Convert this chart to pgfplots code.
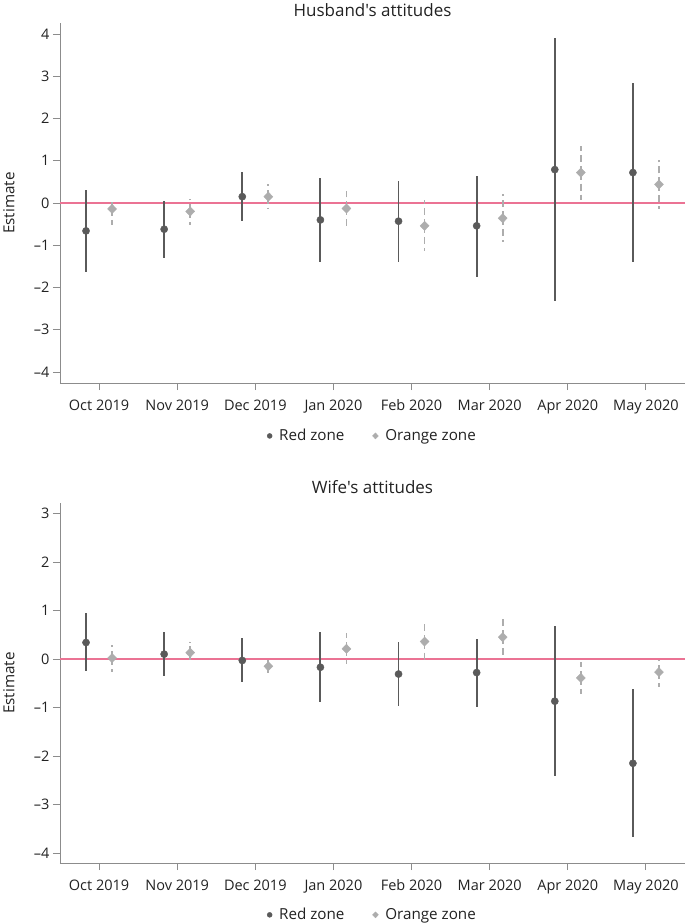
\documentclass[border=0pt]{standalone}
\usepackage{fontspec}
\setmainfont{Open Sans}[Ligatures=TeXOff]
\usepackage{pgfplots}
\pgfplotsset{compat=1.18}
\usepackage{pgfplotstable}

\definecolor{redz}{HTML}{5A5A5A}
\definecolor{orz}{HTML}{ADADAD}
\definecolor{zline}{rgb}{0.92,0.45,0.58}
\definecolor{axg}{HTML}{8C8C8C}
\definecolor{txt}{HTML}{222222}

% Husband's attitudes
\pgfplotstableread{
x y lo hi
0.8333 -0.66 -1.63 0.31
1.8333 -0.62 -1.30 0.05
2.8333 0.15 -0.42 0.73
3.8333 -0.40 -1.40 0.58
4.8333 -0.43 -1.39 0.52
5.8333 -0.54 -1.74 0.65
6.8333 0.79 -2.32 3.90
7.8333 0.72 -1.40 2.83
}\husred
\pgfplotstableread{
x y lo hi
1.1667 -0.14 -0.51 0.09
2.1667 -0.20 -0.52 0.09
3.1667 0.15 -0.15 0.46
4.1667 -0.13 -0.56 0.29
5.1667 -0.54 -1.13 0.07
6.1667 -0.36 -0.92 0.21
7.1667 0.72 0.07 1.36
8.1667 0.44 -0.15 1.01
}\husora
% Wife's attitudes
\pgfplotstableread{
x y lo hi
0.8333 0.34 -0.25 0.94
1.8333 0.10 -0.35 0.55
2.8333 -0.03 -0.47 0.43
3.8333 -0.17 -0.89 0.56
4.8333 -0.31 -0.97 0.35
5.8333 -0.28 -0.98 0.41
6.8333 -0.87 -2.42 0.68
7.8333 -2.15 -3.68 -0.62
}\wifred
\pgfplotstableread{
x y lo hi
1.1667 0.02 -0.26 0.28
2.1667 0.13 -0.09 0.36
3.1667 -0.15 -0.30 -0.02
4.1667 0.21 -0.11 0.54
5.1667 0.36 -0.06 0.78
6.1667 0.45 0.06 0.84
7.1667 -0.39 -0.72 -0.06
8.1667 -0.27 -0.58 -0.03
}\wifora

\newcommand{\tfont}{\fontsize{14.5}{17}\selectfont}
\newcommand{\lfont}{\fontsize{15.2}{18}\selectfont}

\pgfplotsset{
  panel/.style={
    scale only axis, width=625pt, height=360pt,
    xmin=0.5, xmax=8.5,
    axis x line*=bottom, axis y line*=left,
    axis line style={axg, line width=0.9pt, -},
    tick style={axg, line width=0.9pt},
    tick align=outside, major tick length=7pt,
    xtick={1,...,8},
    xticklabels={Oct 2019, Nov 2019, Dec 2019, Jan 2020, Feb 2020, Mar 2020, Apr 2020, May 2020},
    ticklabel style={font=\tfont, text=txt},
    xticklabel style={yshift=-6pt},
    ylabel={Estimate},
    ylabel style={font=\lfont, text=txt, at={(axis description cs:-0.0816,0.5)}, anchor=center},
    title style={font=\fontsize{17}{20}\selectfont, text=txt},
    legend style={draw=none, fill=none, legend columns=2, font=\lfont, text=txt,
      /tikz/every odd column/.append style={column sep=5pt},
      /tikz/every even column/.append style={column sep=26pt}},
    legend cell align=left,
    clip=false,
  },
  redser/.style={only marks, mark=*, mark size=3.6pt, color=redz,
    legend image post style={mark size=2.5pt},
    error bars/.cd, y dir=both, y explicit, error mark=none,
    error bar style={line width=1.9pt, redz, solid}},
  oraser/.style={only marks, mark=diamond*, mark size=4.6pt, color=orz,
    mark options={xscale=1.3},
    legend image post style={mark size=3pt},
    error bars/.cd, y dir=both, y explicit, error mark=none,
    error bar style={line width=1.7pt, orz, dash pattern=on 7pt off 4pt}},
}

\begin{document}
\begin{tikzpicture}
\path[use as bounding box] (-60pt,23pt) rectangle (625pt,-901pt);

\begin{axis}[panel, at={(0,0)}, anchor=north west,
  ymin=-4.26, ymax=4.26, ytick={-4,...,4},
  yticklabels={–4,–3,–2,–1,0,1,2,3,4},
  title={Husband's attitudes}, title style={anchor=center, yshift=7pt},
  legend style={at={(axis description cs:0.5,-0.147)}, anchor=center}]
\addplot[color=zline, line width=1.3pt, no markers, forget plot] coordinates {(0.5,0) (8.5,0)};
\addplot[redser] table[x=x, y=y, y error plus expr=\thisrow{hi}-\thisrow{y}, y error minus expr=\thisrow{y}-\thisrow{lo}] {\husred};
\addlegendentry{Red zone}
\addplot[oraser] table[x=x, y=y, y error plus expr=\thisrow{hi}-\thisrow{y}, y error minus expr=\thisrow{y}-\thisrow{lo}] {\husora};
\addlegendentry{Orange zone}
\end{axis}

\begin{axis}[panel, at={(0,-480pt)}, anchor=north west,
  ymin=-4.206, ymax=3.216, ytick={-4,...,3},
  yticklabels={–4,–3,–2,–1,0,1,2,3},
  title={Wife's attitudes}, title style={anchor=center, yshift=10pt},
  legend style={at={(axis description cs:0.5,-0.144)}, anchor=center}]
\addplot[color=zline, line width=1.3pt, no markers, forget plot] coordinates {(0.5,0) (8.5,0)};
\addplot[redser] table[x=x, y=y, y error plus expr=\thisrow{hi}-\thisrow{y}, y error minus expr=\thisrow{y}-\thisrow{lo}] {\wifred};
\addlegendentry{Red zone}
\addplot[oraser] table[x=x, y=y, y error plus expr=\thisrow{hi}-\thisrow{y}, y error minus expr=\thisrow{y}-\thisrow{lo}] {\wifora};
\addlegendentry{Orange zone}
\end{axis}
\end{tikzpicture}
\end{document}
